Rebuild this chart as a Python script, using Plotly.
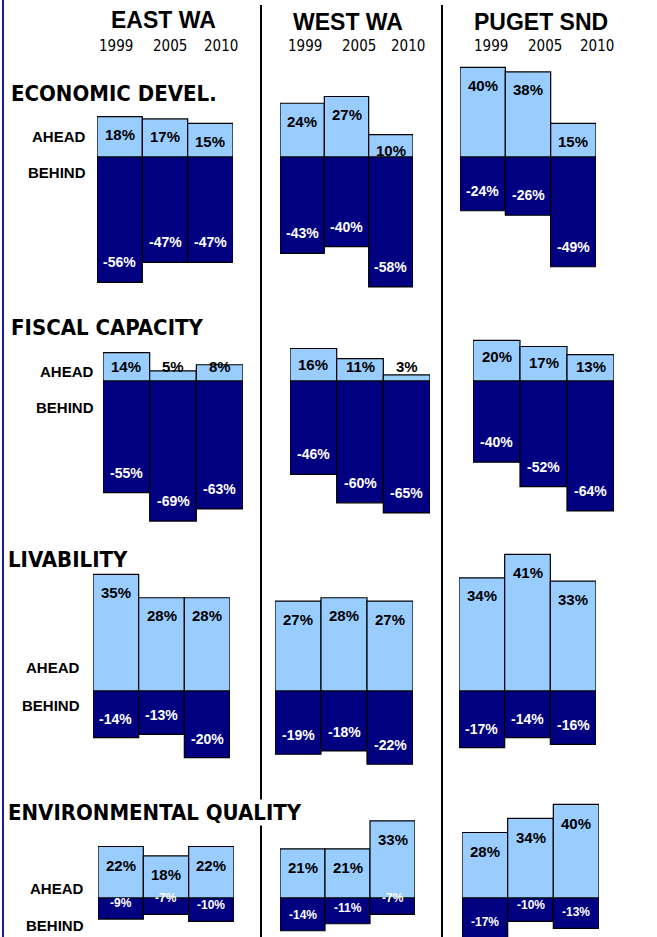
import plotly.graph_objects as go

W, H = 657, 937

# ---------------- data ----------------
regions = ["EAST WA", "WEST WA", "PUGET SND"]
years = ["1999", "2005", "2010"]
categories = ["ECONOMIC DEVEL.", "FISCAL CAPACITY", "LIVABILITY", "ENVIRONMENTAL QUALITY"]

econ_ahead = [[18, 17, 15], [24, 27, 10], [40, 38, 15]]
econ_behind = [[-56, -47, -47], [-43, -40, -58], [-24, -26, -49]]
fiscal_ahead = [[14, 5, 8], [16, 11, 3], [20, 17, 13]]
fiscal_behind = [[-55, -69, -63], [-46, -60, -65], [-40, -52, -64]]
liv_ahead = [[35, 28, 28], [27, 28, 27], [34, 41, 33]]
liv_behind = [[-14, -13, -20], [-19, -18, -22], [-17, -14, -16]]
env_ahead = [[22, 18, 22], [21, 21, 33], [28, 34, 40]]
env_behind = [[-9, -7, -10], [-14, -11, -7], [-17, -10, -13]]

ahead_all = [econ_ahead, fiscal_ahead, liv_ahead, env_ahead]
behind_all = [econ_behind, fiscal_behind, liv_behind, env_behind]

# ---------------- layout geometry (pixels) ----------------
rows = [
    dict(base=157, s=2.24, top=55, bot=295, cols=[(97, 233), (280, 413), (460, 596)],
         pos_off=18, neg_off=20, clamp=7, negsize=14,
         title=(10, 93), ahead=(88, 136), behind=(88, 173)),
    dict(base=381, s=2.03, top=330, bot=530, cols=[(103, 243), (290, 430), (473, 614)],
         pos_off=16, neg_off=20, clamp=15, negsize=14,
         title=(10, 327), ahead=(96, 371), behind=(96, 407)),
    dict(base=691, s=3.33, top=545, bot=775, cols=[(93, 230), (275, 413), (459, 596)],
         pos_off=18, neg_off=19, clamp=12, negsize=14,
         title=(7, 559), ahead=(82, 667), behind=(82, 705)),
    dict(base=898, s=2.34, top=790, bot=937, cols=[(98, 234), (280, 415), (462, 599)],
         pos_off=19, neg_off=16, clamp=12, negsize=12,
         title=(7, 812), ahead=(86, 888), behind=(86, 925)),
]

LIGHT = "#99CCFF"
NAVY = "#000080"
FONT = "Liberation Sans, Arial, Helvetica, sans-serif"
NARROW = "Liberation Sans Narrow, Arial Narrow, DejaVu Sans Condensed, sans-serif"


def px(x):
    return x / W


def py(y):
    return 1 - y / H


fig = go.Figure()
layout_axes = {}
annotations = []
xpos = list(range(len(years)))

hidden = dict(showgrid=False, zeroline=False, showline=False, showticklabels=False,
              ticks="", fixedrange=True)

for r, g in enumerate(rows):
    yr = [(g["base"] - g["bot"]) / g["s"], (g["base"] - g["top"]) / g["s"]]
    for c in range(3):
        idx = r * 3 + c + 1
        xn = "x" if idx == 1 else f"x{idx}"
        yn = "y" if idx == 1 else f"y{idx}"
        xa = "xaxis" if idx == 1 else f"xaxis{idx}"
        ya = "yaxis" if idx == 1 else f"yaxis{idx}"
        l, rr = g["cols"][c]
        layout_axes[xa] = dict(domain=[px(l), px(rr)], range=[-0.5, 2.5], anchor=yn, **hidden)
        layout_axes[ya] = dict(domain=[py(g["bot"]), py(g["top"])], range=yr, anchor=xn, **hidden)
        a = ahead_all[r][c]
        b = behind_all[r][c]
        fig.add_trace(go.Bar(x=xpos, y=a, xaxis=xn, yaxis=yn, width=1,
                             marker=dict(color=LIGHT, line=dict(color="black", width=1.2)),
                             showlegend=False, hoverinfo="skip"))
        fig.add_trace(go.Bar(x=xpos, y=b, xaxis=xn, yaxis=yn, width=1,
                             marker=dict(color=NAVY, line=dict(color="black", width=1.2)),
                             showlegend=False, hoverinfo="skip"))
        for xi, v in zip(xpos, a):
            if v * g["s"] - g["pos_off"] >= g["clamp"]:
                yy, sh = v, -g["pos_off"]
            else:
                yy, sh = 0, g["clamp"]
            annotations.append(dict(x=xi, y=yy, xref=xn, yref=yn, yshift=sh,
                                    text=f"<b>{v}%</b>", showarrow=False, yanchor="middle",
                                    font=dict(family=FONT, size=15, color="black")))
        for xi, v in zip(xpos, b):
            # anchored at the baseline, shifted by the bar's pixel length on this row's scale
            annotations.append(dict(x=xi, y=0, xref=xn, yref=yn,
                                    yshift=v * g["s"] + g["neg_off"],
                                    text=f"<b>{v}%</b>", showarrow=False, yanchor="middle",
                                    font=dict(family=FONT, size=g["negsize"], color="white")))

    # row title & AHEAD/BEHIND labels
    tx, ty = g["title"]
    annotations.append(dict(x=px(tx), y=py(ty), xref="paper", yref="paper", xanchor="left",
                            yanchor="middle", text=f"<b>{categories[r]}</b>", showarrow=False,
                            bgcolor="white", borderpad=0,
                            font=dict(family=NARROW, size=22, color="black")))
    for lab, (lx, ly) in (("AHEAD", g["ahead"]), ("BEHIND", g["behind"])):
        annotations.append(dict(x=px(lx), y=py(ly), xref="paper", yref="paper", xanchor="right",
                                yanchor="middle", text=f"<b>{lab}</b>", showarrow=False,
                                font=dict(family=FONT, size=15, color="black")))

# column headers and years
header_pos = [(163, 20), (348, 22), (541, 22)]
year_pos = [[116, 170, 221], [305, 359, 408], [491, 545, 597]]
for (hx, hy), name, yp in zip(header_pos, regions, year_pos):
    annotations.append(dict(x=px(hx), y=py(hy), xref="paper", yref="paper", xanchor="center",
                            yanchor="middle", text=f"<b>{name}</b>", showarrow=False,
                            font=dict(family=FONT, size=23, color="black")))
    for yx, yl in zip(yp, years):
        annotations.append(dict(x=px(yx), y=py(46), xref="paper", yref="paper", xanchor="center",
                                yanchor="middle", text=yl, showarrow=False,
                                font=dict(family=NARROW, size=15, color="black")))

shapes = [
    dict(type="line", xref="paper", yref="paper", x0=px(261), x1=px(261), y0=py(5), y1=py(937),
         line=dict(color="black", width=2), layer="below"),
    dict(type="line", xref="paper", yref="paper", x0=px(442), x1=px(442), y0=py(5), y1=py(937),
         line=dict(color="black", width=2), layer="below"),
    dict(type="line", xref="paper", yref="paper", x0=px(3), x1=px(3), y0=py(0), y1=py(937),
         line=dict(color="#1a1aa6", width=2), layer="above"),
]

fig.update_layout(
    width=W, height=H, margin=dict(l=0, r=0, t=0, b=0),
    paper_bgcolor="white", plot_bgcolor="rgba(0,0,0,0)",
    barmode="relative", bargap=0,
    annotations=annotations, shapes=shapes,
    **layout_axes,
)

fig.write_html("out.html", config={"displayModeBar": False, "staticPlot": True},
               post_script="document.body.style.margin='0px';")
